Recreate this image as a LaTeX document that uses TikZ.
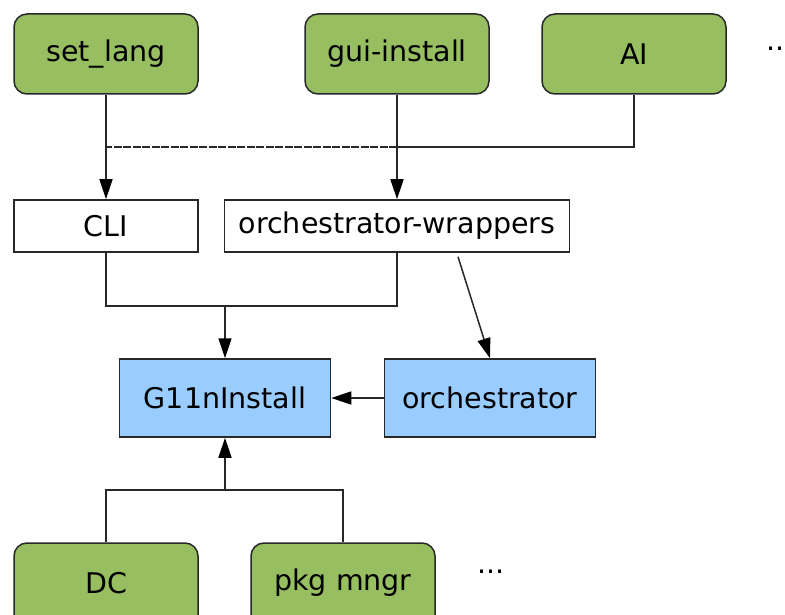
\documentclass[tikz,border=0pt]{standalone}
\usepackage{fontspec}
\setmainfont{DejaVu Sans}
\usetikzlibrary{arrows.meta}
\definecolor{boxgreen}{RGB}{151,190,96}
\definecolor{boxblue}{RGB}{153,204,255}
\definecolor{edge}{RGB}{40,40,40}
\tikzset{
  base/.style={draw=edge, line width=1.5pt, inner sep=0pt, anchor=center,
    font=\fontsize{28.5pt}{34pt}\selectfont},
  greenbox/.style={base, fill=boxgreen, rounded corners=13pt, minimum width=184pt, minimum height=80pt},
  whitebox/.style={base, fill=white, minimum height=52pt},
  bluebox/.style={base, fill=boxblue, minimum width=211pt, minimum height=78pt},
  conn/.style={draw=edge, line width=1.5pt},
  arr/.style={conn, -{Triangle[length=20pt, width=13pt, color=black, fill=black]}},
  dotstext/.style={inner sep=0pt, font=\fontsize{28.5pt}{34pt}\selectfont},
  boxlabel/.style={inner sep=0pt, font=\fontsize{28.5pt}{34pt}\selectfont, yshift=15pt}
}
\begin{document}
\begin{tikzpicture}[x=1pt, y=-1pt]
\useasboundingbox (0,0) rectangle (785,615);
\clip (0,0) rectangle (785,615);
\fill[white] (0,0) rectangle (785,615);
% top row
\node[greenbox] (setlang) at (106,54) {set\_lang};
\node[greenbox] (gui) at (397,54) {gui-install};
\node[greenbox] (ai) at (634,54) {AI};
\node[dotstext, anchor=west] (dotstop) at (766,49) {...};
% middle row
\node[whitebox, minimum width=184pt] (cli) at (106,226) {CLI};
\node[whitebox, minimum width=345pt] (ow) at (397,226) {orchestrator-wrappers};
% blue row
\node[bluebox] (g11n) at (225,398) {G11nInstall};
\node[bluebox] (orch) at (490,398) {orchestrator};
% bottom row (boxes run past the lower edge)
\node[greenbox, minimum height=110pt, label={[boxlabel]center:DC}] (dc) at (106,598) {};
\node[greenbox, minimum height=110pt, label={[boxlabel]center:pkg mngr}] (pkg) at (343,598) {};
\node[dotstext, anchor=west] (dotsbot) at (477,572) {...};
% junction coordinates
\coordinate (jtopl) at (106,147);
\coordinate (jtopm) at (397,147);
\coordinate (jmid) at (225,306);
\coordinate (jbot) at (225,490);
% connectors
\draw[arr] (setlang.south) -- (cli.north);
\draw[arr] (gui.south) -- (ow.north);
\draw[conn] (ai.south) |- (jtopm);
\draw[conn, dash pattern=on 8pt off 1.5pt] (jtopm) -- (jtopl);
\draw[conn] (cli.south) |- (jmid) -| (ow.south);
\draw[arr] (jmid) -- (g11n.north);
\draw[arr] ([xshift=61pt, yshift=-4pt]ow.south) -- (orch.north);
\draw[arr] (orch.west) -- (g11n.east);
\draw[conn] (dc.north) |- (jbot) -| (pkg.north);
\draw[arr] (jbot) -- (g11n.south);
\end{tikzpicture}
\end{document}
